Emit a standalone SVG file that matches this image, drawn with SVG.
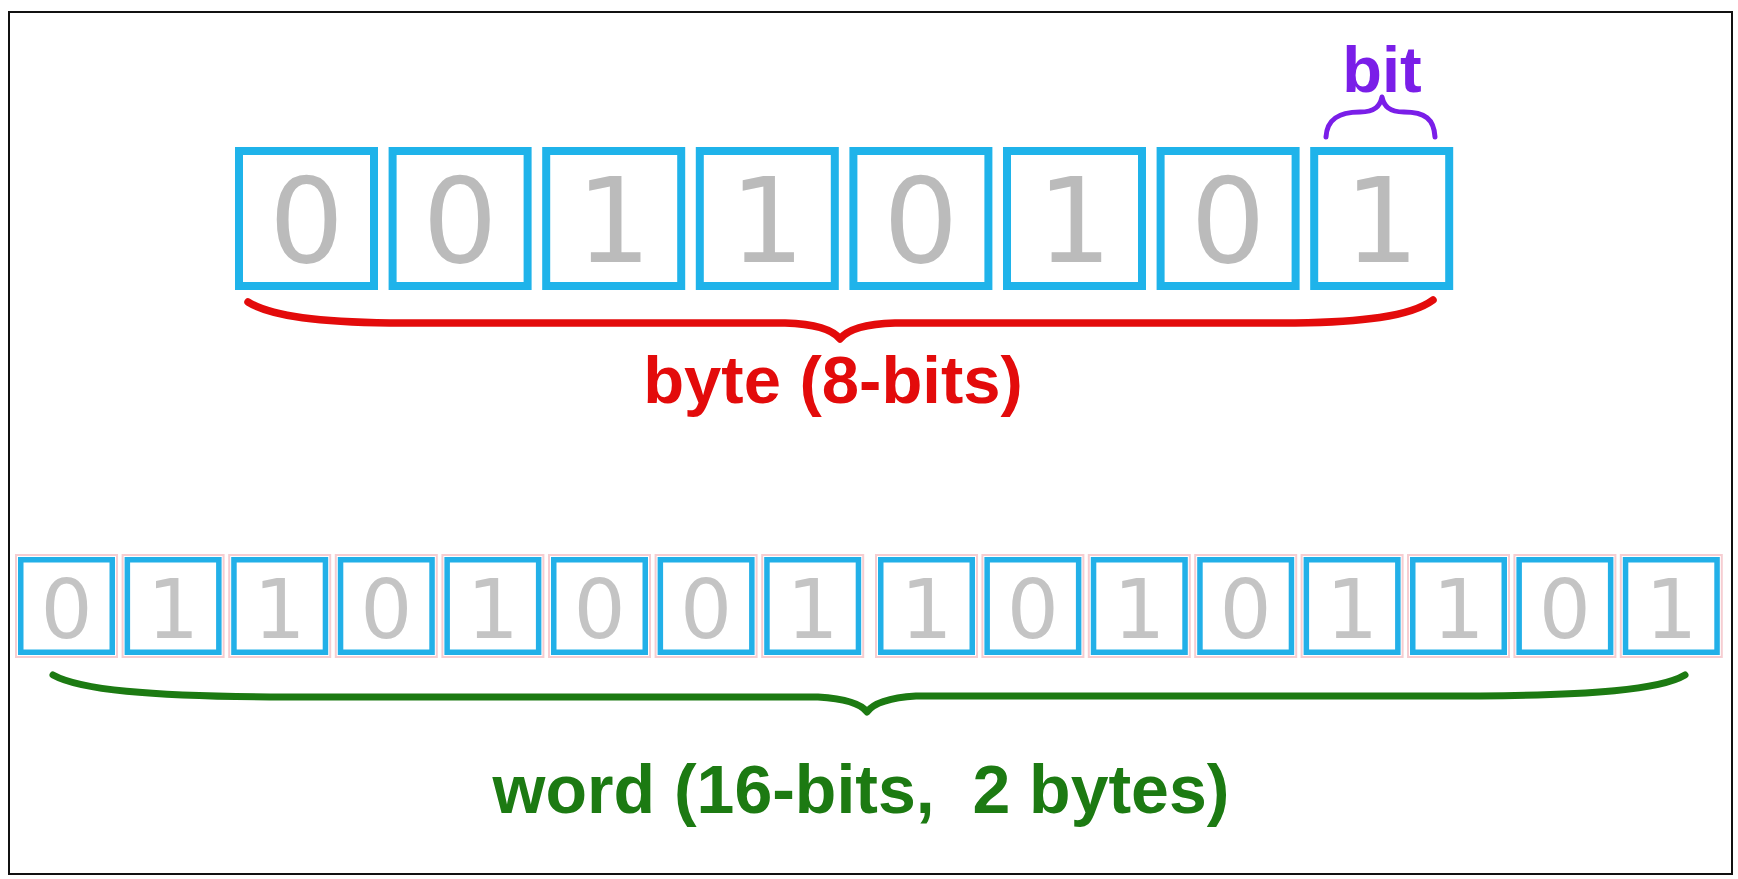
<svg xmlns="http://www.w3.org/2000/svg" width="1738" height="879" viewBox="0 0 1738 879">
<style>
.bt{fill:#ffffff;stroke:#1fb3ea;stroke-width:8}
.bb{fill:#ffffff;stroke:#22b0e8;stroke-width:5.5}
.pk{fill:none;stroke:#f6cdd1;stroke-width:2}
.dt{font-family:"DejaVu Sans",sans-serif;font-size:118px;fill:#bbbbbb;text-anchor:middle}
.db{font-family:"DejaVu Sans",sans-serif;font-size:82px;fill:#c4c4c4;text-anchor:middle}
.lbl{font-family:"Liberation Sans",Arial,sans-serif;font-weight:bold;text-anchor:middle}
.brace{fill:none;stroke-linecap:round;stroke-linejoin:round}
</style>
<rect x="0" y="0" width="1738" height="879" fill="#ffffff"/>
<rect x="9" y="12" width="1723" height="862" fill="none" stroke="#111111" stroke-width="2"/>

<g id="byte">
<g id="b1"><rect class="bt" x="239" y="151" width="135" height="135"/><text class="dt" x="306.5" y="262">0</text></g>
<g id="b2"><rect class="bt" x="392.6" y="151" width="135" height="135"/><text class="dt" x="460.1" y="262">0</text></g>
<g id="b3"><rect class="bt" x="546.2" y="151" width="135" height="135"/><text class="dt" x="613.7" y="262">1</text></g>
<g id="b4"><rect class="bt" x="699.8" y="151" width="135" height="135"/><text class="dt" x="767.3" y="262">1</text></g>
<g id="b5"><rect class="bt" x="853.4" y="151" width="135" height="135"/><text class="dt" x="920.9" y="262">0</text></g>
<g id="b6"><rect class="bt" x="1007" y="151" width="135" height="135"/><text class="dt" x="1074.5" y="262">1</text></g>
<g id="b7"><rect class="bt" x="1160.6" y="151" width="135" height="135"/><text class="dt" x="1228.1" y="262">0</text></g>
<g id="b8"><rect class="bt" x="1314.2" y="151" width="135" height="135"/><text class="dt" x="1381.7" y="262">1</text></g>
</g>

<g id="word">
<g id="w1"><rect class="pk" x="16" y="555" width="101" height="102"/><rect class="bb" x="20.75" y="559.75" width="91.5" height="92.5"/><text class="db" x="66.5" y="638">0</text></g>
<g id="w2"><rect class="pk" x="122.6" y="555" width="101" height="102"/><rect class="bb" x="127.35" y="559.75" width="91.5" height="92.5"/><text class="db" x="173.1" y="638">1</text></g>
<g id="w3"><rect class="pk" x="229.2" y="555" width="101" height="102"/><rect class="bb" x="233.95" y="559.75" width="91.5" height="92.5"/><text class="db" x="279.7" y="638">1</text></g>
<g id="w4"><rect class="pk" x="335.8" y="555" width="101" height="102"/><rect class="bb" x="340.55" y="559.75" width="91.5" height="92.5"/><text class="db" x="386.3" y="638">0</text></g>
<g id="w5"><rect class="pk" x="442.4" y="555" width="101" height="102"/><rect class="bb" x="447.15" y="559.75" width="91.5" height="92.5"/><text class="db" x="492.9" y="638">1</text></g>
<g id="w6"><rect class="pk" x="549" y="555" width="101" height="102"/><rect class="bb" x="553.75" y="559.75" width="91.5" height="92.5"/><text class="db" x="599.5" y="638">0</text></g>
<g id="w7"><rect class="pk" x="655.6" y="555" width="101" height="102"/><rect class="bb" x="660.35" y="559.75" width="91.5" height="92.5"/><text class="db" x="706.1" y="638">0</text></g>
<g id="w8"><rect class="pk" x="762.2" y="555" width="101" height="102"/><rect class="bb" x="766.95" y="559.75" width="91.5" height="92.5"/><text class="db" x="812.7" y="638">1</text></g>
<g id="w9"><rect class="pk" x="876" y="555" width="101" height="102"/><rect class="bb" x="880.75" y="559.75" width="91.5" height="92.5"/><text class="db" x="926.5" y="638">1</text></g>
<g id="w10"><rect class="pk" x="982.4" y="555" width="101" height="102"/><rect class="bb" x="987.15" y="559.75" width="91.5" height="92.5"/><text class="db" x="1032.9" y="638">0</text></g>
<g id="w11"><rect class="pk" x="1088.8" y="555" width="101" height="102"/><rect class="bb" x="1093.55" y="559.75" width="91.5" height="92.5"/><text class="db" x="1139.3" y="638">1</text></g>
<g id="w12"><rect class="pk" x="1195.2" y="555" width="101" height="102"/><rect class="bb" x="1199.95" y="559.75" width="91.5" height="92.5"/><text class="db" x="1245.7" y="638">0</text></g>
<g id="w13"><rect class="pk" x="1301.6" y="555" width="101" height="102"/><rect class="bb" x="1306.35" y="559.75" width="91.5" height="92.5"/><text class="db" x="1352.1" y="638">1</text></g>
<g id="w14"><rect class="pk" x="1408" y="555" width="101" height="102"/><rect class="bb" x="1412.75" y="559.75" width="91.5" height="92.5"/><text class="db" x="1458.5" y="638">1</text></g>
<g id="w15"><rect class="pk" x="1514.4" y="555" width="101" height="102"/><rect class="bb" x="1519.15" y="559.75" width="91.5" height="92.5"/><text class="db" x="1564.9" y="638">0</text></g>
<g id="w16"><rect class="pk" x="1620.8" y="555" width="101" height="102"/><rect class="bb" x="1625.55" y="559.75" width="91.5" height="92.5"/><text class="db" x="1671.3" y="638">1</text></g>
</g>

<g id="connectors">
<path class="brace" stroke="#7a1ee8" stroke-width="5" d="M1326,137 C1327,119 1339,112 1360,112 C1375,112 1380,106 1382,97 C1384,106 1389,112 1404,112 C1425,112 1434,119 1435,137"/>
<path class="brace" stroke="#e30b0b" stroke-width="7.5" d="M248,302 C272,317 322,322 390,323 L785,323 C818,324 833,330 840,339 C847,330 862,324 895,323 L1295,323 C1360,322 1410,317 1433,300"/>
<path class="brace" stroke="#1c7a12" stroke-width="7" d="M53,675 C80,690 150,696 270,697 L818,697 C850,699 862,705 867,712 C872,705 886,698 916,696 L1480,696 C1590,695 1660,690 1685,675"/>
</g>

<g id="labels">
<text class="lbl" x="1382" y="92" font-size="65" fill="#7a1ee8">bit</text>
<text class="lbl" x="833" y="403" font-size="67" fill="#e30b0b">byte (8-bits)</text>
<text class="lbl" x="861" y="813" font-size="68" fill="#1c7a12" xml:space="preserve">word (16-bits,  2 bytes)</text>
</g>
</svg>
